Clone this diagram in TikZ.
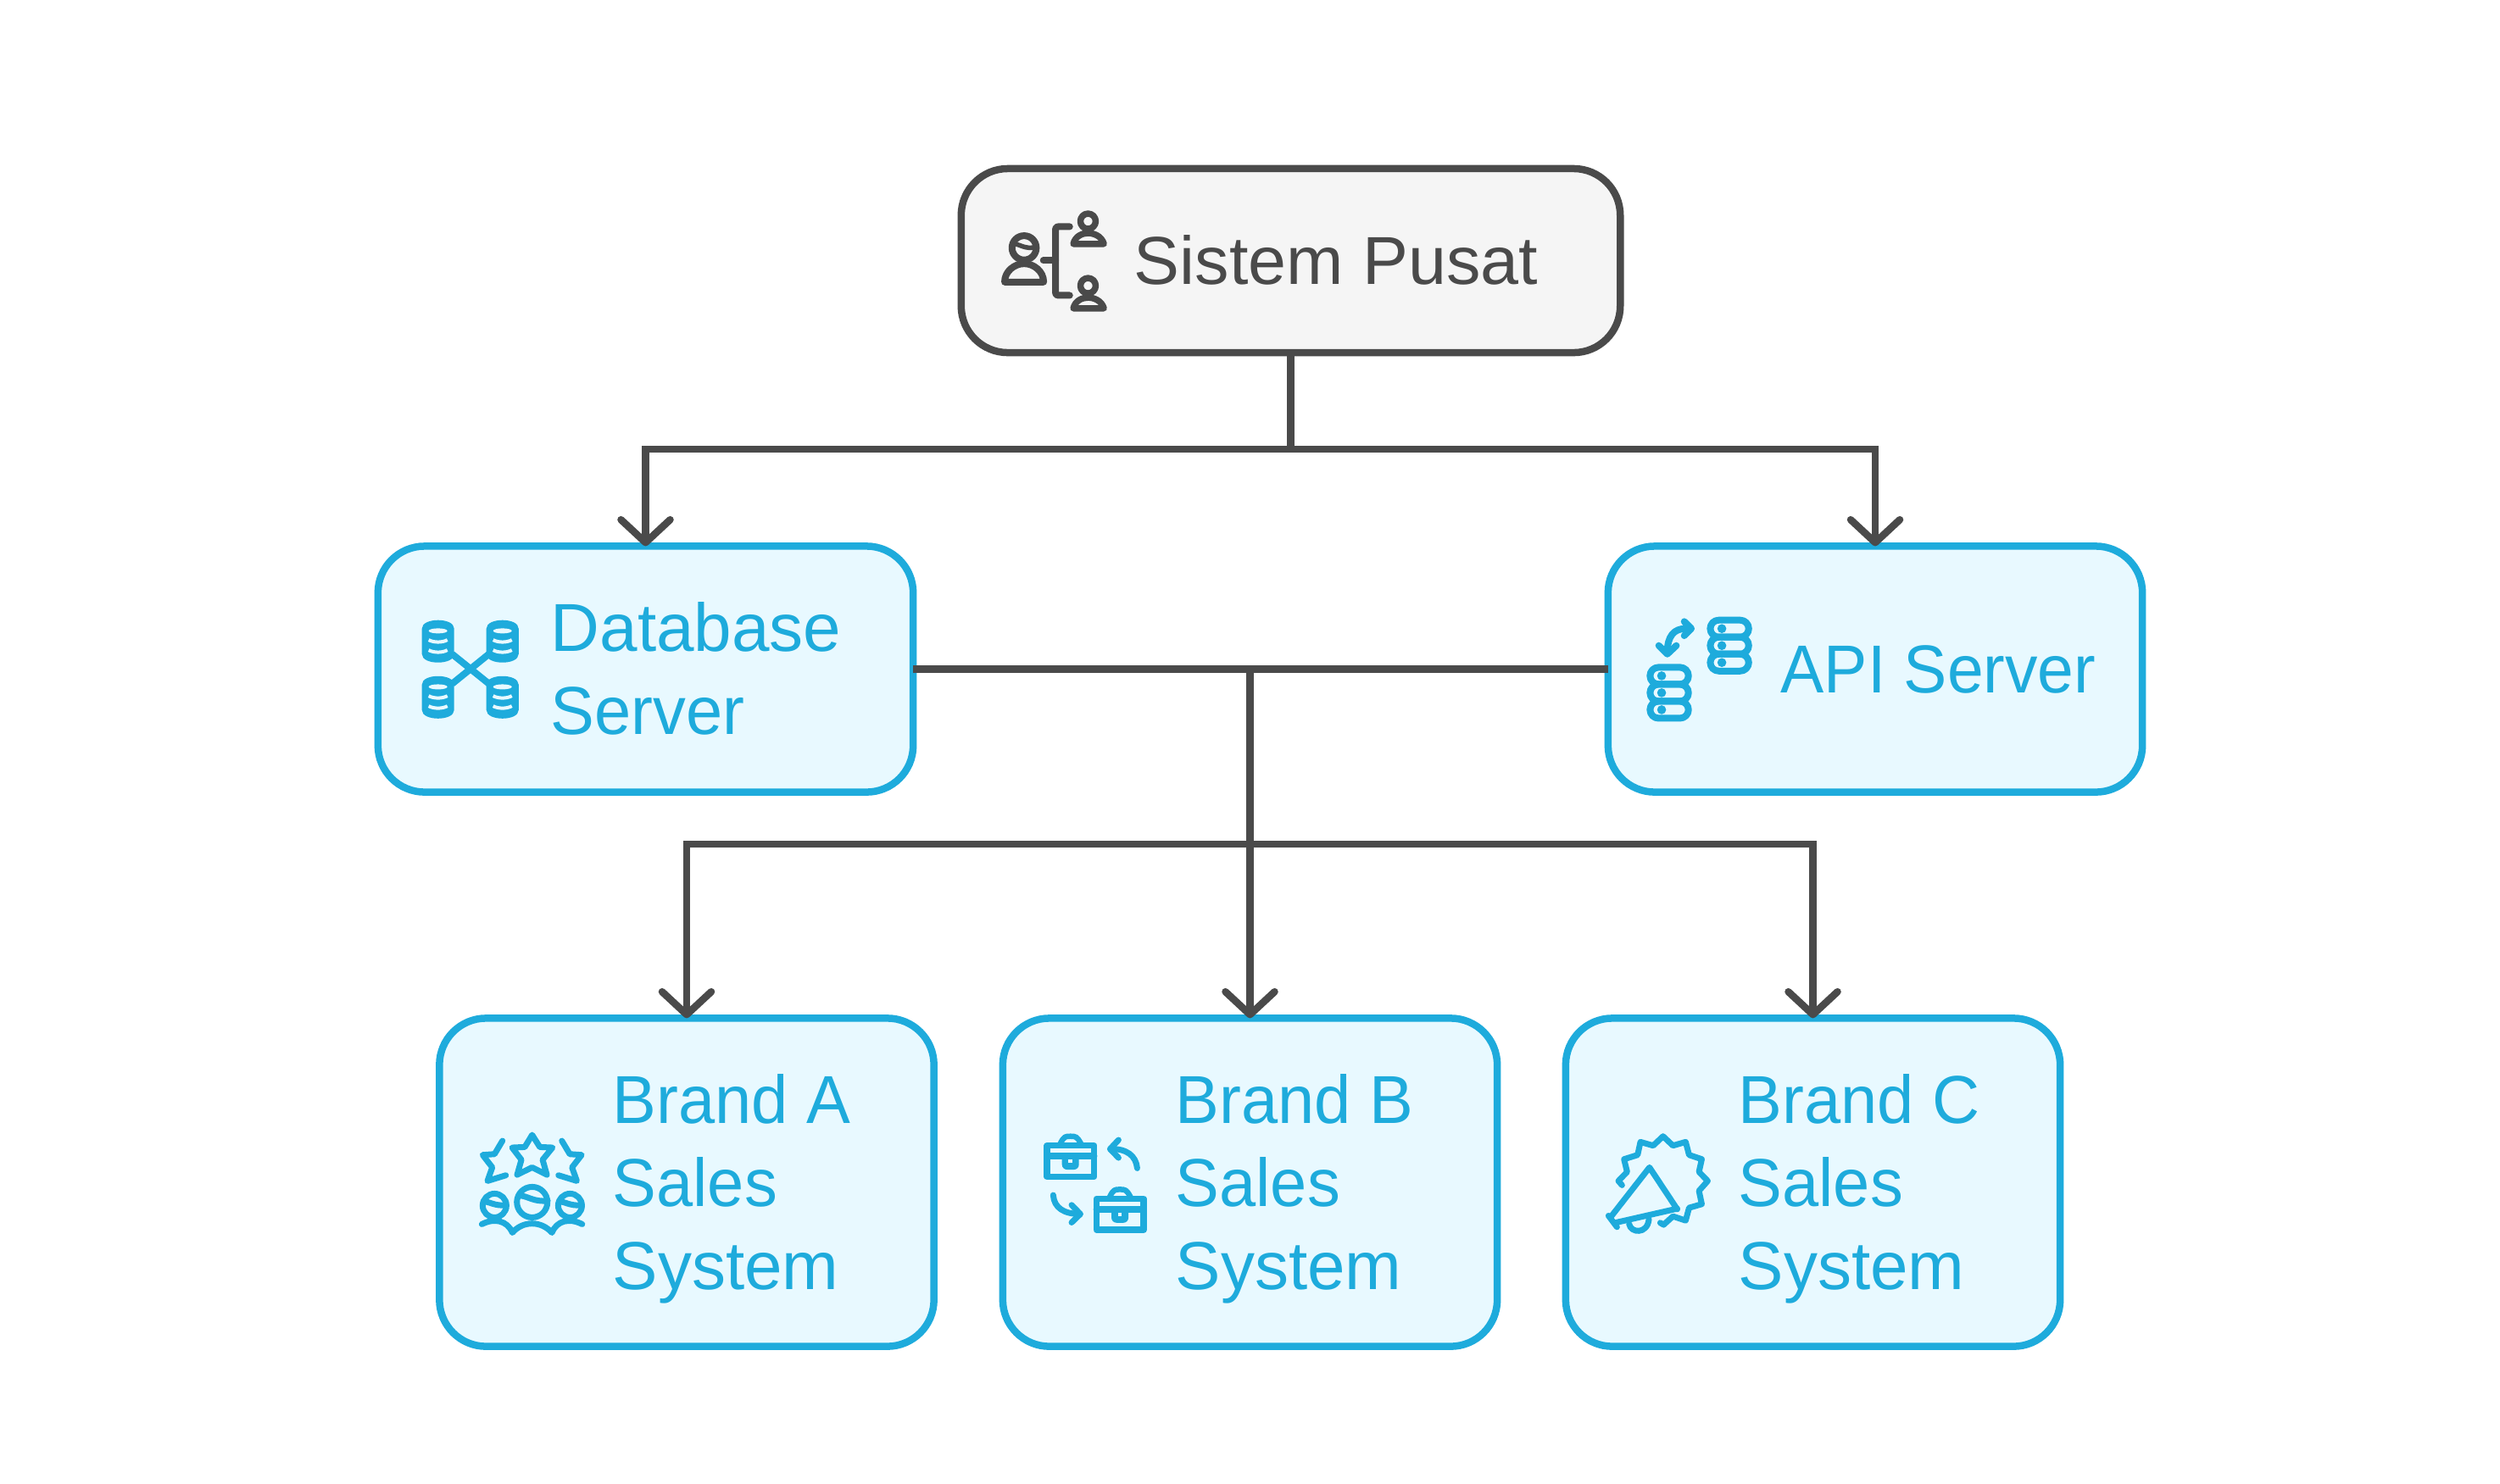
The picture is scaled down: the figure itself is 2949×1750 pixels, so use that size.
\documentclass[tikz,border=0pt]{standalone}
\usepackage{fontspec}
\setmainfont{Liberation Sans}
\newfontface\tight[FakeStretch=0.97]{Liberation Sans}
\newfontface\tighter[FakeStretch=0.96]{Liberation Sans}
\newfontface\wider[FakeStretch=1.01]{Liberation Sans}
\usetikzlibrary{arrows.meta}
\definecolor{ink}{HTML}{4A4A4A}
\definecolor{paper}{HTML}{F5F5F5}
\definecolor{sky}{HTML}{1EABDC}
\definecolor{skyfill}{HTML}{E8F9FF}
\tikzset{
  basebox/.style={rounded corners=0.55cm,line width=0.085cm,inner sep=0pt,outer sep=0pt},
  greybox/.style={basebox,draw=ink,fill=paper},
  bluebox/.style={basebox,draw=sky,fill=skyfill},
  label/.style={anchor=west,inner sep=0pt,align=left,font=\fontsize{22.76}{27.89}\selectfont},
  link/.style={draw=ink,line width=0.085cm},
  arrowlink/.style={link,-{Straight Barb[length=0.27cm,width=0.58cm,round]}},
  zoomed/.style 2 args={shift={(#1,#2)},x=0.033333mm,y=-0.033333mm},
  glyph/.style={line width=0.07cm,line cap=round,line join=round,fill=none},
  cylpart/.style={line width=0.04cm,draw=skyfill},
  cyl/.pic={
    \fill[sky] (-57,-45) .. controls (-57,-85) and (57,-85) .. (57,-45) -- (57,45) .. controls (57,85) and (-57,85) .. (-57,45) -- cycle;
    \fill[skyfill] (0,-37) ellipse [x radius=0.11cm,y radius=0.03cm];
    \draw[cylpart] (-33,-5) .. controls (-15,5) and (15,5) .. (33,-5);
    \draw[cylpart] (-33,31) .. controls (-15,41) and (15,41) .. (33,31);
  },
  stack/.pic={
    \foreach \yy in {95,155,215}{
      \draw[sky,line width=0.08cm,rounded corners=0.1cm] (12,\yy) rectangle (148,\yy+60);
      \fill[sky] (53,\yy+30) circle (0.053cm);
    }
  },
  case/.pic={
    \draw[sky,line width=0.075cm,line join=round] (75,155) rectangle (242,265);
    \draw[sky,line width=0.075cm] (75,192) -- (242,192);
    \draw[sky,line width=0.065cm,line cap=round] (122,148) .. controls (135,122) and (140,122) .. (158,122) .. controls (176,122) and (181,122) .. (195,148);
    \fill[sky,rounded corners=0.06cm] (128,182) rectangle (188,240);
    \fill[skyfill] (151,205) rectangle (165,217);
  },
}
\begin{document}
\begin{tikzpicture}[x=0.01cm,y=-0.01cm]
\path[use as bounding box,fill=white] (0,0) rectangle (2949,1750);

% connectors sit under the boxes' fills only where they meet them
\node[greybox,minimum width=7.77cm,minimum height=2.17cm] (top) at (1522.5,307.5) {};
\node[bluebox,minimum width=6.31cm,minimum height=2.90cm] (db) at (761.5,789.5) {};
\node[bluebox,minimum width=6.30cm,minimum height=2.90cm] (api) at (2212,789.5) {};
\node[bluebox,minimum width=5.83cm,minimum height=3.87cm] (a) at (810,1395) {};
\node[bluebox,minimum width=5.83cm,minimum height=3.87cm] (b) at (1474.5,1395) {};
\node[bluebox,minimum width=5.83cm,minimum height=3.87cm] (c) at (2138.5,1395) {};

% labels
\node[label,text=ink] (topl) at (1337,307) {\wider Sistem Pusat};
\node[label,text=sky] (dbl) at (649,789) {Database\\{\tight Server}};
\node[label,text=sky] (apil) at (2100,790) {\tighter API Server};
\node[label,text=sky] (al) at (722,1403) {{\tight Brand A}\\{\tight Sales}\\System};
\node[label,text=sky] (bl) at (1386,1403) {{\tight Brand B}\\{\tight Sales}\\System};
\node[label,text=sky] (cl) at (2050,1403) {{\tight Brand C}\\{\tight Sales}\\System};

% connectors
\coordinate (j1) at (top.south |- 0,530);
\coordinate (j2) at (b.north |- db.east);
\coordinate (j3) at (b.north |- 0,996);
\draw[link] (top.south) -- (j1);
\draw[arrowlink] (j1) -| (db.north);
\draw[arrowlink] (j1) -| (api.north);
\draw[link] (db.east) -- (api.west);
\draw[link] (j2) -- (j3);
\draw[arrowlink] (j3) -| (a.north);
\draw[arrowlink] (j3) -- (b.north);
\draw[arrowlink] (j3) -| (c.north);

% icon: Sistem Pusat
\begin{scope}[zoomed={1120}{180},glyph,draw=ink]
  \draw[line width=0.08cm] (264,337) circle (0.143cm);
  \draw[line width=0.055cm] (228,322) .. controls (250,326) and (270,342) .. (300,335);
  \draw[line width=0.08cm] (195,458) .. controls (195,420) and (230,393) .. (264,393) .. controls (298,393) and (333,420) .. (333,458) -- cycle;
  \draw[line width=0.08cm] (425,262) -- (385,262) .. controls (378,262) and (375,265) .. (375,272) -- (375,495) .. controls (375,502) and (378,505) .. (385,505) -- (425,505);
  \draw[line width=0.08cm] (332,382) -- (375,382);
  \foreach \dy in {0,228}{
    \draw[line width=0.075cm] (490,243+\dy) circle (0.09cm);
    \draw[line width=0.075cm] (438,323+\dy) .. controls (445,295+\dy) and (470,285+\dy) .. (490,285+\dy) .. controls (510,285+\dy) and (538,295+\dy) .. (546,323+\dy) -- cycle;
  }
\end{scope}

% icon: Database
\begin{scope}[zoomed={470}{700}]
  \draw[sky,line width=0.08cm] (190,215) -- (320,320);
  \draw[sky,line width=0.08cm] (320,215) -- (190,320);
  \path (140,170) pic {cyl} (368,170) pic {cyl} (140,368) pic {cyl} (368,368) pic {cyl};
\end{scope}

% icon: API
\begin{scope}[zoomed={1920}{700},glyph,draw=sky]
  \path (280,0) pic {stack} (67,167) pic {stack};
  \draw[line width=0.08cm] (205,125) .. controls (165,125) and (140,150) .. (140,210);
  \draw[line width=0.08cm] (110,185) -- (140,215) -- (172,185);
  \draw[line width=0.08cm] (200,100) -- (225,125) -- (200,150);
\end{scope}

% icon: Brand A
\begin{scope}[zoomed={540}{1300},glyph,draw=sky]
  \draw (263,117) -- (290,160) -- (335,162) -- (300,205) -- (315,258) -- (263,232) -- (210,258) -- (225,205) -- (192,162) -- (237,160) -- cycle;
  \draw (158,138) -- (130,185) -- (88,188) -- (122,232) -- (105,280) -- (170,260);
  \draw (368,138) -- (396,185) -- (438,188) -- (404,232) -- (421,280) -- (356,260);
  \draw (263,355) circle (0.18cm);
  \draw (130,367) circle (0.14cm);
  \draw (397,367) circle (0.14cm);
  \draw (222,332) .. controls (250,335) and (270,355) .. (318,350);
  \draw (92,352) .. controls (115,355) and (130,368) .. (168,366);
  \draw (359,352) .. controls (382,355) and (397,368) .. (435,366);
  \draw (85,433) .. controls (130,410) and (175,420) .. (193,463) .. controls (230,420) and (295,420) .. (333,463) .. controls (350,420) and (395,410) .. (440,433);
\end{scope}

% icon: Brand B
\begin{scope}[zoomed={1210}{1300},glyph,draw=sky]
  \path (0,0) pic {case} (175,188) pic {case};
  \draw (394,235) .. controls (390,190) and (355,165) .. (300,167);
  \draw (328,135) -- (298,167) -- (328,198);
  \draw (97,330) .. controls (100,375) and (135,397) .. (192,397);
  \draw (162,365) -- (193,397) -- (162,427);
\end{scope}

% icon: Brand C
\begin{scope}[zoomed={1880}{1300},glyph,draw=sky]
  \draw (100,295) -- (87,280) -- (118,248) -- (107,203) -- (155,188) -- (165,142) -- (210,155) -- (245,122) -- (280,155) -- (325,142) -- (337,188) -- (382,203) -- (372,248) -- (403,280) -- (372,315) -- (382,362) -- (337,375) -- (325,420) -- (280,405) -- (247,435) -- (235,428);
  \draw (295,380) -- (197,232) -- (62,405);
  \draw (75,428) -- (295,378);
  \draw (52,403) -- (82,443);
  \draw (125,432) .. controls (130,465) and (190,470) .. (195,415);
\end{scope}
\end{tikzpicture}
\end{document}
